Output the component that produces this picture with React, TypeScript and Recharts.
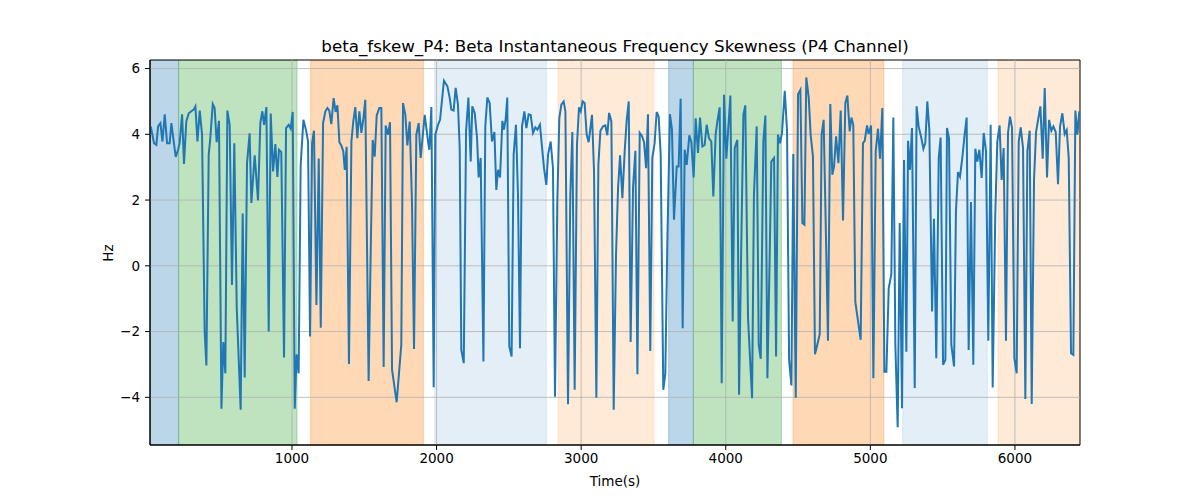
import React from 'react';
import { ComposedChart, Line, XAxis, YAxis, ReferenceArea, ReferenceLine } from 'recharts';

// Time (s) of each sample
const timeS = [
  23, 46, 62, 74, 90, 104, 120, 136, 154, 166, 182, 196, 212, 223, 240, 253, 269, 286, 304, 320,
  332, 346, 362, 378, 396, 408, 424, 435, 452, 465, 479, 495, 512, 525, 539, 553, 569, 585, 601, 618,
  645, 659, 673, 689, 707, 719, 742, 765, 781, 795, 807, 823, 839, 853, 869, 885, 899, 910, 926, 945,
  959, 977, 991, 1005, 1019, 1032, 1046, 1060, 1079,
  1099, 1111, 1125, 1139, 1152, 1169, 1185, 1199, 1215, 1231, 1245, 1258, 1272, 1288, 1302, 1314, 1328, 1341, 1355, 1365,
  1378, 1394, 1411, 1424, 1438, 1452, 1466, 1480, 1494, 1507, 1530, 1544, 1558, 1572, 1586, 1604, 1618, 1634, 1648, 1664,
  1678, 1692, 1710, 1724, 1756, 1768, 1784, 1798, 1814, 1830, 1844, 1860, 1876, 1890, 1918, 1941, 1950, 1964, 1980, 1991,
  2010, 2024, 2051,
  2075, 2091, 2102, 2118, 2132, 2148, 2160, 2171, 2188, 2204, 2220, 2236, 2247, 2264, 2280, 2291, 2305, 2324, 2337, 2351,
  2367, 2383, 2400, 2413, 2425, 2439, 2455, 2466, 2478, 2489, 2503, 2519, 2533, 2549, 2563, 2577, 2591, 2607, 2621, 2637,
  2651, 2667, 2683, 2697, 2715, 2732, 2743, 2759, 2771, 2789, 2805, 2819, 2835, 2849, 2863, 2879, 2891, 2909, 2925, 2939,
  2955, 2971, 2985, 2997, 3010, 3024, 3038, 3052, 3075, 3089, 3105, 3119, 3133, 3151,
  3167, 3181, 3193, 3209, 3225, 3241, 3255, 3269, 3285, 3301, 3315, 3329, 3342, 3359, 3375, 3389, 3405, 3421, 3435, 3449,
  3462, 3478, 3492, 3508, 3522, 3536, 3550, 3568, 3582, 3596, 3614, 3628, 3642, 3661, 3674, 3688, 3702, 3716, 3730, 3748,
  3762, 3778, 3792, 3808, 3822, 3838, 3854, 3868, 3884, 3900, 3914, 3930, 3942, 3958, 3972, 3988, 4004, 4016, 4032, 4048,
  4062, 4080, 4092, 4108, 4122, 4135,
  4154, 4182, 4195, 4214, 4228, 4242, 4260, 4274, 4288, 4304, 4315, 4334, 4348, 4361, 4375, 4389, 4408, 4424, 4438, 4454,
  4467, 4484, 4500, 4516, 4530, 4544, 4557, 4574, 4587, 4603, 4617, 4633, 4650, 4663, 4677, 4691, 4707, 4723, 4737, 4749,
  4763, 4779, 4795, 4811, 4827, 4841, 4857, 4869, 4882, 4896, 4915, 4933, 4949, 4961, 4977, 4988, 5005, 5021, 5037, 5053,
  5067, 5083, 5097, 5111, 5127, 5145, 5159, 5173, 5189, 5203, 5219, 5233,
  5249, 5261, 5274, 5288, 5307, 5320, 5334, 5353, 5367, 5380, 5394, 5408, 5427, 5440, 5456, 5473, 5486, 5503, 5519, 5530,
  5544, 5560, 5579, 5592, 5606, 5620, 5636, 5652, 5666, 5680, 5696, 5712, 5726, 5740, 5754, 5770, 5784, 5800, 5816, 5832,
  5846, 5864, 5878, 5894, 5908, 5922, 5938, 5952, 5966, 5980, 5996, 6012, 6026, 6040, 6056, 6072, 6086, 6102, 6116, 6132,
  6146, 6160, 6176, 6192, 6206, 6222, 6236, 6252, 6266, 6282, 6298, 6312, 6328, 6344, 6358, 6372, 6388, 6404, 6418, 6432,
  6445,
];

// Beta instantaneous frequency skewness (Hz)
const skewHz = [
  4.24, 3.73, 3.68, 4.24, 4.34, 3.78, 4.61, 3.73, 3.73, 4.34, 3.78, 3.31, 3.53, 3.73, 4.61, 3.10, 4.39, 4.64, 4.70, 4.75,
  4.85, 3.78, 4.72, 3.99, -2.00, -3.03, 3.38, 3.88, 4.92, 4.80, 3.76, 4.41, -4.35, -2.32, -3.27, 4.72, 4.29, -0.58, 3.73, -1.29,
  -4.38, 1.59, -3.40, 3.12, 4.03, 1.91, 3.36, 1.99, 4.34, 4.70, 4.29, 4.83, -2.00, 4.63, 2.87, 3.70, 2.70, 3.53, 3.46, -2.79,
  4.19, 4.29, 4.17, 4.68, -4.35, -2.69, -3.27, 3.07, 4.44,
  4.09, 3.78, -2.15, 3.73, 4.11, -1.19, 3.26, -1.88, 4.34, 4.70, 4.80, 4.72, 4.31, 5.10, 4.68, 4.88, 3.76, 3.66, 3.48, 2.92,
  3.62, -2.99, 3.78, 4.39, 4.83, 3.88, 4.70, 4.04, 4.49, 5.05, -3.50, 0.33, 3.83, 3.32, 4.57, 4.80, 4.80, -3.08, 4.27, 3.99,
  4.37, -3.16, -3.72, -4.15, -2.40, 4.95, 4.59, 3.66, 4.39, 1.91, -2.53, 3.99, 4.34, 3.28, 4.59, 3.78, 3.53, 4.83, -3.69, 3.99,
  4.29, 4.44, 5.63,
  5.46, 5.10, 4.75, 4.72, 5.41, 4.90, 3.58, -2.56, -2.96, 4.09, 5.12, 3.17, 4.85, 4.64, 3.88, 2.69, 3.28, -2.91, 4.24, 5.12,
  4.95, 3.78, 4.07, 2.31, 2.92, 2.69, 4.41, 4.14, 4.47, 5.12, -2.45, -2.76, 3.38, 4.29, 2.16, -2.51, 4.24, 4.70, 4.19, 4.61,
  4.59, 4.04, 4.21, 4.14, 4.29, 3.48, 2.97, 2.46, 3.38, 3.78, 2.97, -3.98, 1.96, 4.49, 4.90, 5.00, 4.70, -4.21, 2.16, 4.07,
  -3.77, 3.68, 4.82, 4.70, 5.00, 4.95, 3.99, 3.76, 4.59, 2.87, -4.01, 3.07, 4.11, 4.24,
  4.27, 3.97, 4.65, 4.39, -4.38, 0.33, 2.36, 3.36, 2.06, 3.48, 4.44, 5.00, -2.32, 2.41, 3.50, -3.30, 4.04, 3.94, 3.76, 2.97,
  4.61, -2.59, 3.28, 3.73, 4.68, 4.54, 3.38, -3.77, -3.27, 0.74, 4.61, 4.14, 1.40, 3.02, 3.02, 5.08, -1.90, 3.53, 3.07, 3.97,
  3.76, 2.69, 4.49, 3.43, 4.51, 3.63, 3.68, 4.29, 3.88, 3.78, 2.11, 3.99, 4.39, 4.82, -3.57, 5.20, 3.26, 4.09, 5.18, -1.69,
  3.58, 3.83, -3.92, 0.84, 4.59, 4.88,
  -1.59, -4.03, 2.16, 4.24, -2.40, -2.83, 3.78, 4.57, -3.42, 0.33, 3.17, 3.28, -2.76, 3.99, 3.73, 4.04, 5.32, 4.09, -2.86, -3.64,
  3.40, -4.01, 5.22, 5.35, 1.30, 1.25, 5.73, 5.10, 3.99, 3.33, -2.69, -2.40, -2.08, 3.99, 4.44, 1.35, -2.28, 4.92, 2.77, 3.02,
  3.94, 3.12, 4.72, 1.38, 4.95, 5.18, 4.09, 4.51, 4.29, -1.09, -1.69, -2.25, 3.73, 3.80, 4.27, 4.01, 4.27, -3.42, 3.48, 4.17,
  3.26, 4.80, -3.22, -3.22, -0.68, -0.27, 4.51, -2.40, -4.91, 1.30, -4.33, 3.22,
  -2.61, 3.80, 2.92, 4.19, -3.72, 4.85, 4.24, 3.88, 3.56, 3.73, 5.00, 4.14, -1.39, 1.43, -2.81, 3.28, 3.90, -3.01, -2.86, 4.19,
  3.88, -2.40, -3.06, 1.65, 2.85, 2.71, 3.28, 3.99, 4.51, -2.56, 1.94, -3.01, 3.56, 3.17, 3.53, 2.67, 4.04, 3.48, -2.28, 4.29,
  -3.70, 1.55, 3.78, 4.27, 2.61, 3.58, -2.28, 4.04, 4.54, 4.19, -2.81, -3.27, 3.78, 4.21, 3.58, -4.05, 3.48, 4.11, -4.20, 2.62,
  4.07, 4.44, 4.85, 3.26, 5.41, 2.69, 4.44, 4.11, 4.24, 4.07, 2.48, 4.24, 4.64, 4.01, 4.13, 3.28, -2.66, -2.71, 4.72, 3.99,
  4.70,
];

const xTicks = [1000, 2000, 3000, 4000, 5000, 6000];
const yTicks = [-4, -2, 0, 2, 4, 6];

// Shaded stage spans
const spanStart = [18, 216, 1129, 1987, 2840, 3605, 3776, 4465, 5224, 5883];
const spanEnd = [216, 1035, 1909, 2759, 3504, 3776, 4385, 5094, 5809, 6450];
const spanKind = ['A', 'B', 'C', 'D', 'E', 'A', 'B', 'C', 'D', 'E'];

const X_DOMAIN: [number, number] = [18, 6450];
const Y_DOMAIN: [number, number] = [-5.45, 6.26];

const kindFill: Record<string, { color: string; alpha: number }> = {
  A: { color: '#1f77b4', alpha: 0.3 },
  B: { color: '#2ca02c', alpha: 0.3 },
  C: { color: '#ff7f0e', alpha: 0.3 },
  D: { color: '#1f77b4', alpha: 0.12 },
  E: { color: '#ff7f0e', alpha: 0.16 },
};

const data = timeS.map((t, i) => ({ t, v: skewHz[i] }));
const fmt = (v: number) => (v < 0 ? `\u2212${Math.abs(v)}` : String(v));
const FONT = 'DejaVu Sans, sans-serif';
const GRID = '#b0b0b0';

export default function App() {
  return (
    <div style={{ position: 'relative', width: 1200, height: 500, background: '#fff', fontFamily: FONT }}>
      <style>{'body{margin:0;}'}</style>
      <ComposedChart width={1200} height={500} data={data} margin={{ top: 60, right: 120, bottom: 0, left: 0 }}>
        <XAxis
          type="number"
          dataKey="t"
          domain={X_DOMAIN}
          ticks={xTicks}
          allowDataOverflow
          height={55}
          tickSize={5}
          tickMargin={3}
          axisLine={{ stroke: '#000', strokeWidth: 1 }}
          tickLine={{ stroke: '#000', strokeWidth: 1 }}
          tick={{ fill: '#000', fontSize: 13.5, fontFamily: FONT }}
        />
        <YAxis
          type="number"
          domain={Y_DOMAIN}
          ticks={yTicks}
          allowDataOverflow
          width={150}
          tickSize={5}
          tickMargin={5}
          tickFormatter={fmt}
          axisLine={{ stroke: '#000', strokeWidth: 1 }}
          tickLine={{ stroke: '#000', strokeWidth: 1 }}
          tick={{ fill: '#000', fontSize: 13.5, fontFamily: FONT }}
        />
        {spanStart.map((s, i) => (
          <ReferenceArea
            key={`span-${i}`}
            x1={s}
            x2={spanEnd[i]}
            fill={kindFill[spanKind[i]].color}
            fillOpacity={kindFill[spanKind[i]].alpha}
            stroke={kindFill[spanKind[i]].color}
            strokeOpacity={kindFill[spanKind[i]].alpha}
            ifOverflow="hidden"
          />
        ))}
        {xTicks.map((x) => (
          <ReferenceLine key={`gx-${x}`} x={x} stroke={GRID} strokeWidth={0.8} />
        ))}
        {yTicks.map((y) => (
          <ReferenceLine key={`gy-${y}`} y={y} stroke={GRID} strokeWidth={0.8} />
        ))}
        <Line
          type="linear"
          dataKey="v"
          stroke="#1f77b4"
          strokeWidth={2}
          dot={false}
          activeDot={false}
          isAnimationActive={false}
        />
        <ReferenceArea x1={X_DOMAIN[0]} x2={X_DOMAIN[1]} fill="none" stroke="#000" strokeWidth={1} />
      </ComposedChart>
      <svg width={1200} height={500} style={{ position: 'absolute', left: 0, top: 0, pointerEvents: 'none' }}>
        <text x={615} y={52} textAnchor="middle" fontSize={16.7} fontFamily={FONT} fill="#000">
          beta_fskew_P4: Beta Instantaneous Frequency Skewness (P4 Channel)
        </text>
        <text x={615} y={486} textAnchor="middle" fontSize={13.5} fontFamily={FONT} fill="#000">
          Time(s)
        </text>
        <text x={113} y={253} textAnchor="middle" fontSize={13.5} fontFamily={FONT} fill="#000" transform="rotate(-90 113 253)">
          Hz
        </text>
      </svg>
    </div>
  );
}
